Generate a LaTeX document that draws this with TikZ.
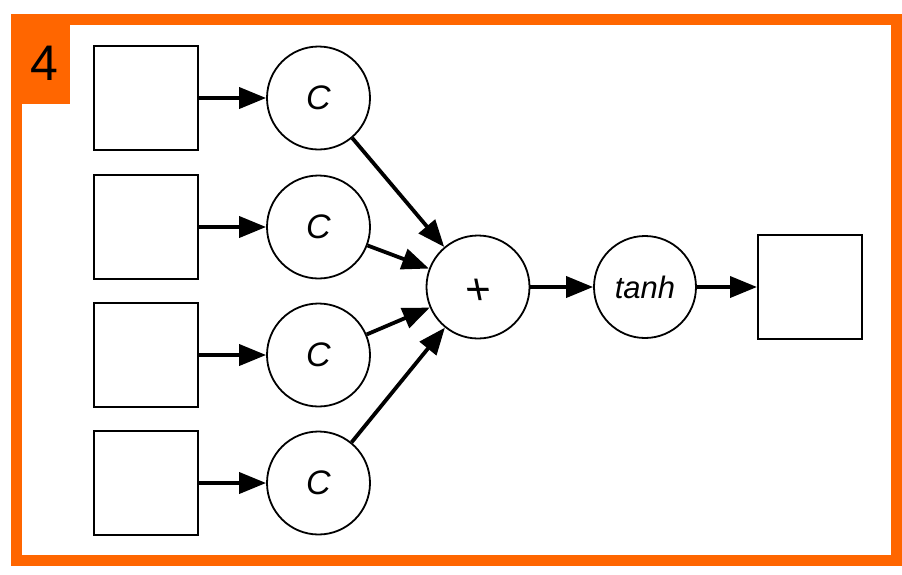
\documentclass[tikz,border=0pt]{standalone}
\usepackage{fontspec}
\setmainfont{Liberation Sans}
\usetikzlibrary{arrows.meta}
\definecolor{frameorange}{HTML}{FF6600}
\begin{document}
\begin{tikzpicture}[x=1pt,y=-1pt,
  sq/.style={draw=black, line width=2pt, minimum width=104pt, minimum height=104pt, inner sep=0pt},
  circ/.style={draw=black, line width=1.8pt, circle, minimum size=103pt, inner sep=0pt, font=\itshape\fontsize{34}{34}\selectfont},
  arr/.style={line width=3.8pt, -{Triangle[length=27pt,width=21pt]}, shorten >=0pt}
]
\useasboundingbox (0,0) rectangle (902,574);
\draw[frameorange, line width=11pt] (16.5,19.5) rectangle (896.5,560.5);
\fill[frameorange] (11,14) rectangle (70,104);
\node[font=\fontsize{50}{50}\selectfont] (lbl) at (44,63) {4};

\node[sq] (s1) at (145.5,98) {};
\node[sq] (s2) at (145.5,227) {};
\node[sq] (s3) at (145.5,355) {};
\node[sq] (s4) at (145.5,483) {};

\node[circ] (c1) at (318.5,98) {C};
\node[circ] (c2) at (318.5,227) {C};
\node[circ] (c3) at (318.5,355) {C};
\node[circ] (c4) at (318.5,483) {C};

\node[circ] (plus) at (478,287) {};
\node[font=\fontsize{44}{44}\selectfont, xslant=-0.2, transform shape] (plustxt) at (479,292) {+};
\node[circ, minimum size=102pt, font=\itshape\fontsize{31}{31}\selectfont] (tanh) at (645,287) {tanh};
\node[sq] (out) at (810,287) {};

\foreach \i in {1,2,3,4} {
  \draw[arr] (s\i) -- (c\i);
  \draw[arr] (c\i) -- (plus);
}
\draw[arr] (plus) -- (tanh);
\draw[arr] (tanh) -- (out);
\end{tikzpicture}
\end{document}
